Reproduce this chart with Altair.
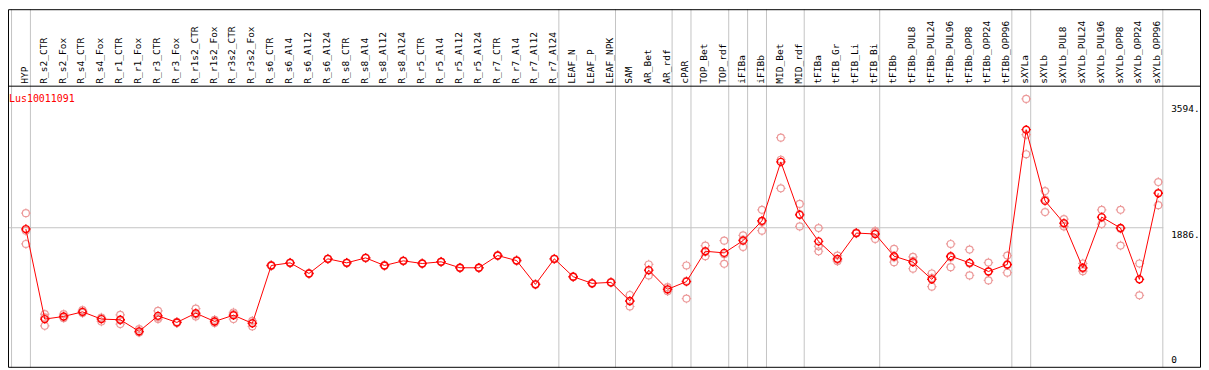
import altair as alt
import pandas as pd

gene = "Lus10011091"

categories = [
    "HYP", "R_s2_CTR", "R_s2_Fox", "R_s4_CTR", "R_s4_Fox", "R_r1_CTR", "R_r1_Fox",
    "R_r3_CTR", "R_r3_Fox", "R_r1s2_CTR", "R_r1s2_Fox", "R_r3s2_CTR", "R_r3s2_Fox",
    "R_s6_CTR", "R_s6_Al4", "R_s6_Al12", "R_s6_Al24", "R_s8_CTR", "R_s8_Al4",
    "R_s8_Al12", "R_s8_Al24", "R_r5_CTR", "R_r5_Al4", "R_r5_Al12", "R_r5_Al24",
    "R_r7_CTR", "R_r7_Al4", "R_r7_Al12", "R_r7_Al24", "LEAF_N", "LEAF_P", "LEAF_NPK",
    "SAM", "AR_Bet", "AR_rdf", "cPAR", "TOP_Bet", "TOP_rdf", "iFIBa", "iFIBb",
    "MID_Bet", "MID_rdf", "tFIBa", "tFIB_Gr", "tFIB_Li", "tFIB_Bi", "tFIBb",
    "tFIBb_PUL8", "tFIBb_PUL24", "tFIBb_PUL96", "tFIBb_OPP8", "tFIBb_OPP24",
    "tFIBb_OPP96", "sXYLa", "sXYLb", "sXYLb_PUL8", "sXYLb_PUL24", "sXYLb_PUL96",
    "sXYLb_OPP8", "sXYLb_OPP24", "sXYLb_OPP96",
]

means = [
    1868, 647, 683, 745, 647, 638, 481, 691, 602, 727, 615, 700, 589,
    1374, 1410, 1266, 1464, 1410, 1477, 1374, 1437, 1401, 1424, 1343, 1343,
    1509, 1441, 1118, 1464, 1222, 1132, 1145,
    893, 1311, 1051, 1155, 1567, 1545, 1711, 1980, 2779, 2061,
    1701, 1464, 1814, 1801, 1500, 1419, 1186, 1500, 1410, 1293, 1388,
    3216, 2250, 1949, 1343, 2030, 1882, 1186, 2353,
]

rep_a = [
    2084, 714, 714, 768, 669, 705, 512, 759, 610, 790, 637, 737, 624,
    1380, 1415, 1270, 1468, 1414, 1481, 1378, 1441, 1405, 1428, 1347, 1347,
    1513, 1445, 1122, 1468, 1226, 1136, 1149,
    974, 1388, 1080, 1374, 1644, 1711, 1782, 2129, 3108, 2209,
    1882, 1509, 1820, 1828, 1599, 1491, 1266, 1666, 1590, 1414, 1509,
    3633, 2384, 2003, 1401, 2129, 2129, 1401, 2506,
]

rep_b = [
    1666, 556, 660, 737, 615, 579, 467, 647, 595, 683, 593, 647, 548,
    1368, 1405, 1262, 1460, 1406, 1473, 1370, 1433, 1397, 1420, 1339, 1339,
    1505, 1437, 1114, 1460, 1218, 1128, 1141,
    818, 1239, 1025, 925, 1500, 1397, 1626, 1846, 2421, 1904,
    1634, 1432, 1808, 1734, 1419, 1330, 1087, 1351, 1239, 1172, 1276,
    2883, 2098, 1904, 1297, 1936, 1644, 970, 2192,
]

rep_c = [
    1846, 670, 675, 730, 657, 630, 464, 667, 601, 708, 615, 716, 595,
    1374, 1410, 1266, 1464, 1410, 1477, 1374, 1437, 1401, 1424, 1343, 1343,
    1509, 1441, 1118, 1464, 1222, 1132, 1145,
    887, 1306, 1048, 1166, 1557, 1527, 1725, 1965, 2808, 2070,
    1567, 1451, 1814, 1841, 1482, 1436, 1205, 1483, 1401, 1293, 1379,
    3148, 2268, 1940, 1331, 2025, 1873, 1187, 2361,
]

# index of the last category of each group (-1 = left edge)
group_ends = [-1, 0, 28, 31, 34, 35, 37, 38, 39, 41, 45, 52, 53, 60]
ref_value = [1886]
tick_values = [0, 1886, 3594]
tick_labels = ["0", "1886.", "3594."]

W, H = 1201, 361
MONO = "DejaVu Sans Mono"
RED = "#ff0000"
PINK = "#ec9a9a"
GRID = "#c4c4c4"
SYMBOL = ("M0.7,0A0.7,0.7,0,1,1,-0.7,0A0.7,0.7,0,1,1,0.7,0Z"
          "M0,-0.7L0,-0.95M0,0.7L0,0.95M0.7,0L0.95,0M-0.7,0L-0.95,0")

n = len(categories)
xs = alt.Scale(domain=[0, n - 1], range=[18, 1158], nice=False, zero=False)
ys = alt.Scale(domain=[0, 3799], range=[360, 78], nice=False, zero=False)

df_mean = pd.DataFrame({"idx": list(range(n)), "cat": categories, "value": means})
df_rep = pd.DataFrame({
    "idx": list(range(n)) * 3,
    "value": rep_a + rep_b + rep_c,
})
df_sep = pd.DataFrame({"idx": [g + 0.24 for g in group_ends]})
df_ref = pd.DataFrame({"value": ref_value})
df_ticks = pd.DataFrame({"value": tick_values, "label": tick_labels})

X = alt.X("idx:Q", scale=xs, axis=None)
Y = alt.Y("value:Q", scale=ys, axis=None)

seps = alt.Chart(df_sep).mark_rule(color=GRID, strokeWidth=1).encode(
    x=X, y=alt.value(0), y2=alt.value(H)
)
hline = alt.Chart(df_ref).mark_rule(color=GRID, strokeWidth=1).encode(
    y=Y, x=alt.value(0), x2=alt.value(1163)
)
header_line = alt.Chart(df_ref).mark_rule(color="black", strokeWidth=1).encode(
    y=alt.value(77.5), x=alt.value(0), x2=alt.value(W)
)
frame = alt.Chart(df_ref).mark_rect(fillOpacity=0, stroke="black", strokeWidth=1).encode(
    x=alt.value(0.5), x2=alt.value(W - 0.5), y=alt.value(0.5), y2=alt.value(H - 0.5)
)
cat_labels = alt.Chart(df_mean).mark_text(
    angle=270, align="left", baseline="middle", font=MONO, fontSize=9.6,
    color="black", dy=-1
).encode(x=X, y=alt.value(75), text="cat:N")

title = alt.Chart(pd.DataFrame({"t": [gene]})).mark_text(
    align="left", baseline="top", font=MONO, fontSize=10, color=RED
).encode(x=alt.value(1), y=alt.value(85), text="t:N")

reps = alt.Chart(df_rep).mark_point(
    shape=SYMBOL, size=100, filled=False, color=PINK, strokeWidth=1.2, opacity=1
).encode(x=X, y=Y)

line = alt.Chart(df_mean).mark_line(color=RED, strokeWidth=1).encode(x=X, y=Y)

pts = alt.Chart(df_mean).mark_point(
    shape=SYMBOL, size=100, filled=False, color=RED, strokeWidth=1.4, opacity=1
).encode(x=X, y=Y)

tick_top = alt.Chart(df_ticks[df_ticks["value"] > 0]).mark_text(
    align="left", baseline="top", font=MONO, fontSize=9.5, color="black", dy=2
).encode(x=alt.value(1171), y=Y, text="label:N")
tick_zero = alt.Chart(df_ticks[df_ticks["value"] == 0]).mark_text(
    align="left", baseline="bottom", font=MONO, fontSize=9.5, color="black", dy=-2
).encode(x=alt.value(1171), y=Y, text="label:N")

chart = alt.layer(
    seps, hline, header_line, frame, cat_labels, title, reps, line, pts, tick_top, tick_zero
).properties(
    width=W, height=H, autosize=alt.AutoSizeParams(type="none"), padding=0,
    background="white"
).configure_view(stroke=None)

chart.save("out.html", embed_options={"renderer": "svg", "actions": False})
